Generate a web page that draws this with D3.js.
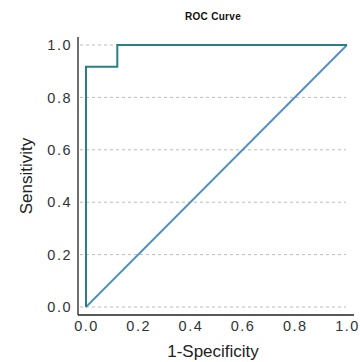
<!DOCTYPE html>
<html lang="en">
<head>
<meta charset="UTF-8" />
<title>ROC Curve</title>
<script src="https://cdn.jsdelivr.net/npm/d3@7"></script>
<style>
  body { margin: 0; background: #fff; }
  text { font-family: 'Liberation Sans', Arial, sans-serif; }
</style>
</head>
<body>
<div id="container"></div>
<script>
// ROC curve points (false positive rate, true positive rate)
const fpr = [0, 0, 0.12, 0.12, 1]
const tpr = [0, 0.917, 0.917, 1, 1]
// chance diagonal
const diagX = [0, 1]
const diagY = [0, 1]
const ticks = [0, 0.2, 0.4, 0.6, 0.8, 1.0]

const width = 360
const height = 362

const svg = d3.select('#container').append('svg').attr('width', width).attr('height', height)

const x = d3.scaleLinear().domain([0, 1]).range([86, 347])
const y = d3.scaleLinear().domain([0, 1]).range([307, 45])

// grid
svg.append('g')
    .selectAll('line')
    .data(ticks)
    .enter()
    .append('line')
    .attr('x1', 80)
    .attr('x2', 346)
    .attr('y1', (d) => y(d))
    .attr('y2', (d) => y(d))
    .style('stroke', '#bbb')
    .style('stroke-width', 1)
    .style('stroke-dasharray', '3,3')

// axes
const yAxis = svg.append('g').attr('transform', 'translate(78,0)')
    .call(d3.axisLeft(y).tickValues(ticks).tickFormat(d3.format('.1f')).tickSize(0).tickPadding(6))
yAxis.select('.domain').attr('d', 'M0,37V315').style('stroke', '#222').style('stroke-width', 1.3)
yAxis.selectAll('text').style('font-size', '14.5px').style('fill', '#333').style('letter-spacing', '1.5px')

const xAxis = svg.append('g').attr('transform', 'translate(0,315)')
    .call(d3.axisBottom(x).tickValues(ticks).tickFormat(d3.format('.1f')).tickSize(0).tickPadding(6))
xAxis.select('.domain').attr('d', 'M78,0H354').style('stroke', '#222').style('stroke-width', 1.3)
xAxis.selectAll('text').style('font-size', '14.5px').style('fill', '#333').style('letter-spacing', '1.5px')

// diagonal
svg.append('path')
    .attr('d', d3.line().x((d) => x(d[0])).y((d) => y(d[1]))(diagX.map((v, i) => [v, diagY[i]])))
    .style('fill', 'none')
    .style('stroke', '#4a8fc4')
    .style('stroke-width', 1.8)

// roc curve
svg.append('path')
    .attr('d', d3.line().x((d) => x(d[0])).y((d) => y(d[1]))(fpr.map((v, i) => [v, tpr[i]])))
    .style('fill', 'none')
    .style('stroke', '#2a7f86')
    .style('stroke-width', 2)

// labels
svg.append('text')
    .attr('x', 213).attr('y', 20)
    .attr('text-anchor', 'middle')
    .style('font-size', '10px').style('font-weight', '900').style('fill', '#111')
    .style('letter-spacing', '0.3px')
    .text('ROC Curve')

svg.append('text')
    .attr('x', 213).attr('y', 357)
    .attr('text-anchor', 'middle')
    .style('font-size', '17px').style('fill', '#222')
    .text('1-Specificity')

svg.append('text')
    .attr('transform', 'translate(32,176) rotate(-90)')
    .attr('text-anchor', 'middle')
    .style('font-size', '17px').style('fill', '#222')
    .text('Sensitivity')
</script>
</body>
</html>
